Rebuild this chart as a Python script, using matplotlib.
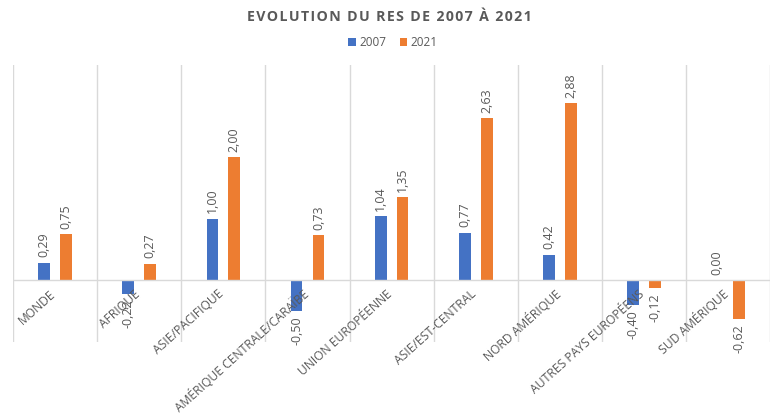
import numpy as np
import matplotlib
matplotlib.use("Agg")
from matplotlib import pyplot as plt

plt.rcParams['font.family'] = ['Open Sans', 'DejaVu Sans']

# data
regions = ['MONDE', 'AFRIQUE', 'ASIE/PACIFIQUE', 'AMÉRIQUE CENTRALE/CARAÏBE',
           'UNION EUROPÉENNE', 'ASIE/EST-CENTRAL', 'NORD AMÉRIQUE',
           'AUTRES PAYS EUROPÉENS', 'SUD AMÉRIQUE']
res_2007 = [0.29, -0.22, 1.00, -0.50, 1.04, 0.77, 0.42, -0.40, 0.00]
res_2021 = [0.75, 0.27, 2.00, 0.73, 1.35, 2.63, 2.88, -0.12, -0.62]

blue = '#4472C4'
orange = '#ED7D31'
grey = '#595959'

def spaced(s):
    # letter spacing with hair spaces
    return '\u200a'.join(s)

fig = plt.figure(figsize=(7.74, 4.16), dpi=100)
ax = fig.add_axes([0.017, 0.178, 0.978, 0.666])

x = np.arange(len(regions))
off = 0.13
w = 0.14
b1 = ax.bar(x - off, res_2007, w, color=blue, label='2007')
b2 = ax.bar(x + off, res_2021, w, color=orange, label='2021')

def fmt(v):
    return ('%.2f' % v).replace('.', ',')

for bars, vals in [(b1, res_2007), (b2, res_2021)]:
    for rect, v in zip(bars, vals):
        cx = rect.get_x() + rect.get_width() / 2
        if v >= 0:
            ax.annotate(fmt(v), (cx, v), xytext=(0, 4), textcoords='offset points',
                        rotation=90, ha='center', va='bottom', fontsize=9, color=grey)
        else:
            ax.annotate(fmt(v), (cx, v), xytext=(0, -4), textcoords='offset points',
                        rotation=90, ha='center', va='top', fontsize=9, color=grey)

# category labels along the zero line
for i, name in enumerate(regions):
    ax.annotate(name, (i, 0), xytext=(-4, -5), textcoords='offset points',
                rotation=42, rotation_mode='anchor', ha='right', va='top',
                fontsize=8.7, color=grey)

ax.set_xlim(-0.5, len(regions) - 0.5)
ax.set_ylim(-1.0, 3.5)
ax.axhline(0, color='#D9D9D9', lw=1)
for b in np.arange(-0.5, len(regions), 1.0):
    ax.axvline(b, color='#D9D9D9', lw=1)
ax.set_xticks([])
ax.set_yticks([])
for s in ax.spines.values():
    s.set_visible(False)

fig.text(0.503, 0.958, spaced('EVOLUTION DU RES DE 2007 À 2021'), ha='center', va='center',
         fontsize=10.2, fontweight='bold', color=grey)
fig.legend(handles=[b1, b2], loc='center', bbox_to_anchor=(0.508, 0.898), ncol=2,
           frameon=False, fontsize=8.5, handlelength=0.6, handleheight=0.6,
           columnspacing=1.2, handletextpad=0.3, labelcolor=grey)

fig.savefig('out.png', dpi=100)
